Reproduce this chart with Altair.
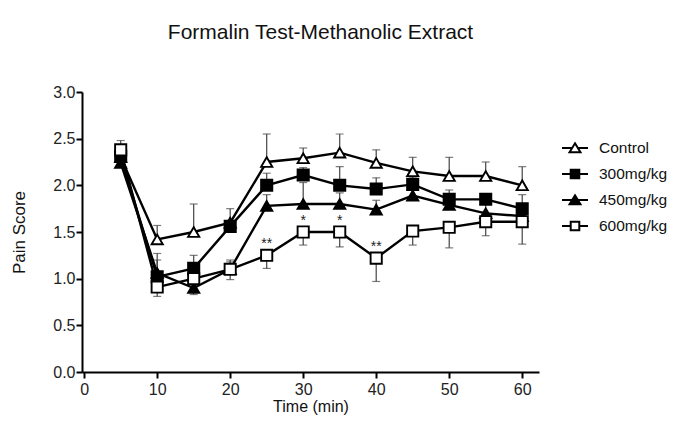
import altair as alt
import pandas as pd

groups = ["Control", "300mg/kg", "450mg/kg", "600mg/kg"]
time = [5, 10, 15, 20, 25, 30, 35, 40, 45, 50, 55, 60]

control = [2.30, 1.42, 1.50, 1.60, 2.25, 2.29, 2.35, 2.24, 2.15, 2.10, 2.10, 2.00]
d300 = [2.31, 1.02, 1.11, 1.56, 2.00, 2.11, 2.00, 1.96, 2.01, 1.85, 1.85, 1.75]
d450 = [2.24, 1.06, 0.90, 1.10, 1.78, 1.80, 1.80, 1.74, 1.89, 1.79, 1.70, 1.67]
d600 = [2.38, 0.91, 1.00, 1.10, 1.25, 1.50, 1.50, 1.22, 1.51, 1.55, 1.61, 1.61]

# one-sided error extents (upper / lower)
control_up = [0.10, 0.15, 0.30, 0.15, 0.30, 0.11, 0.20, 0.14, 0.15, 0.20, 0.15, 0.20]
control_dn = [0, 0, 0, 0, 0, 0, 0, 0, 0, 0, 0, 0]
d300_up = [0.08, 0.25, 0.14, 0.05, 0.13, 0.08, 0.20, 0.12, 0.08, 0.10, 0.05, 0.15]
d300_dn = [0, 0, 0, 0, 0, 0, 0, 0, 0, 0, 0, 0]
d450_up = [0, 0.14, 0, 0.08, 0.12, 0.23, 0.12, 0.10, 0.08, 0.10, 0.10, 0.10]
d450_dn = [0, 0, 0.07, 0, 0, 0, 0, 0, 0, 0, 0, 0]
d600_up = [0.10, 0, 0, 0.10, 0, 0, 0, 0, 0, 0, 0, 0]
d600_dn = [0, 0.10, 0.05, 0.11, 0.14, 0.14, 0.16, 0.25, 0.15, 0.22, 0.15, 0.24]

sig600 = ["", "", "", "", "**", "*", "*", "**", "", "", "", ""]

series = {
    "Control": (control, control_up, control_dn),
    "300mg/kg": (d300, d300_up, d300_dn),
    "450mg/kg": (d450, d450_up, d450_dn),
    "600mg/kg": (d600, d600_up, d600_dn),
}

rows, errs = [], []
for g in groups:
    vals, up, dn = series[g]
    for t, v, u, d in zip(time, vals, up, dn):
        rows.append({"group": g, "time": t, "score": v})
        if u > 0:
            errs.append({"group": g, "time": t, "y": v, "y2": v + u})
        if d > 0:
            errs.append({"group": g, "time": t, "y": v, "y2": v - d})
df = pd.DataFrame(rows)
err = pd.DataFrame(errs)
sig = pd.DataFrame({"time": time, "score": d600, "sig": sig600})
sig = sig[sig["sig"] != ""]

FONT = "Liberation Sans"

xscale = alt.Scale(domain=[-0.3, 62.3], nice=False, zero=False)
yscale = alt.Scale(domain=[0, 3], nice=False)

xax = alt.Axis(values=list(range(0, 61, 5)), format="d", title="Time (min)",
               titlePadding=1, labelPadding=3, titleFontSize=16)
yax = alt.Axis(values=[0, 0.5, 1.0, 1.5, 2.0, 2.5, 3.0], format=".1f",
               title="Pain Score", titlePadding=24, labelPadding=1)

X = alt.X("time:Q", scale=xscale, axis=xax)
Y = alt.Y("score:Q", scale=yscale, axis=yax)

bars = alt.Chart(err).mark_rule(color="#444", strokeWidth=1.2).encode(
    x=alt.X("time:Q", scale=xscale, axis=xax),
    y=alt.Y("y:Q", scale=yscale, axis=yax),
    y2="y2:Q",
)
caps = alt.Chart(err).mark_tick(color="#444", thickness=1.2, size=8, orient="horizontal").encode(
    x=alt.X("time:Q", scale=xscale),
    y=alt.Y("y2:Q", scale=yscale),
)

lines = alt.Chart(df).mark_line(color="black", strokeWidth=2.4).encode(
    x=X, y=Y, detail="group:N"
)

shape_scale = alt.Scale(domain=groups, range=["triangle-up", "square", "triangle-up", "square"])
fill_scale = alt.Scale(domain=groups, range=["white", "black", "black", "white"])
stroke_scale = alt.Scale(domain=groups, range=["black", "black", "black", "black"])

points = alt.Chart(df).mark_point(stroke="black", strokeWidth=1.9, size=125, opacity=1).encode(
    x=X, y=Y,
    shape=alt.Shape("group:N", scale=shape_scale, legend=None),
    fill=alt.Fill("group:N", scale=fill_scale, legend=None),
)

tri_path = "M-1,0H-0.22M0.22,0H1M0,-0.36L0.42,0.33L-0.42,0.33Z"
sq_path = "M-1,0H-0.33M0.33,0H1M-0.33,-0.33H0.33V0.33H-0.33Z"
legend_shape = alt.Scale(domain=groups, range=[tri_path, sq_path, tri_path, sq_path])

leg = alt.Legend(
    title=None, orient="none", legendX=479, legendY=42,
    labelFont=FONT, labelFontSize=15.5, labelColor="#111", labelOffset=10,
    symbolSize=676, symbolStrokeWidth=2, symbolStrokeColor="black",
    rowPadding=3, padding=0, symbolOpacity=1,
)
legend_layer = alt.Chart(df).transform_filter("datum.time > 1000").mark_point(
    strokeWidth=2, size=676, opacity=1
).encode(
    x=alt.X("time:Q", scale=xscale),
    y=alt.Y("score:Q", scale=yscale),
    shape=alt.Shape("group:N", scale=legend_shape, legend=leg),
    fill=alt.Fill("group:N", scale=fill_scale, legend=leg),
    stroke=alt.Stroke("group:N", scale=stroke_scale, legend=leg),
)

stars = alt.Chart(sig).mark_text(font=FONT, fontSize=14, dy=-11, baseline="middle", color="#222").encode(
    x=alt.X("time:Q", scale=xscale),
    y=alt.Y("score:Q", scale=yscale),
    text="sig:N",
)

chart = alt.layer(bars, caps, lines, points, stars, legend_layer).resolve_scale(
    shape="independent", fill="independent", stroke="independent"
).properties(
    width=457, height=280,
    autosize=alt.AutoSizeParams(type="none"),
    padding={"left": 74, "top": 84, "right": 134, "bottom": 44},
    title=alt.TitleParams("Formalin Test-Methanolic Extract", font=FONT, fontSize=21,
                          fontWeight="normal", color="#111", offset=41, anchor="middle", dx=10),
).configure_view(stroke=None).configure_axis(
    grid=False, domainColor="black", domainWidth=2, tickColor="black", tickWidth=2,
    tickSize=6, labelFont=FONT, labelFontSize=16, labelColor="#222",
    titleFont=FONT, titleFontSize=17, titleFontWeight="normal", titleColor="#111",
)

chart.save("out.html", embed_options={"renderer": "svg", "actions": False})
